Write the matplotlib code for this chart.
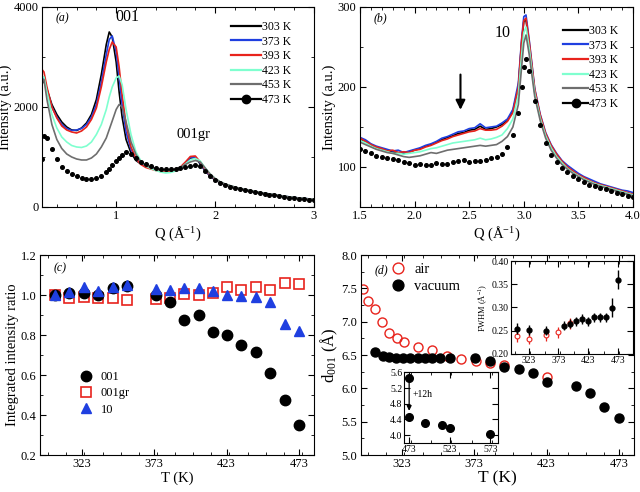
import numpy as np
import matplotlib
matplotlib.use('Agg')
import matplotlib.pyplot as plt
from matplotlib.lines import Line2D
from matplotlib.ticker import MultipleLocator, FormatStrFormatter

plt.rcParams['font.family'] = ['Liberation Serif', 'DejaVu Serif']
plt.rcParams['mathtext.fontset'] = 'stix'
plt.rcParams['font.size'] = 9

# ---------------- data ----------------
temps_label = ['303 K', '373 K', '393 K', '423 K', '453 K', '473 K']
curve_colors = ['black', '#1f3fe0', '#e8231c', '#7fffcf', '#6e6e6e', 'black']

# (a) low-Q scattering
q_a = [0.25, 0.27, 0.30, 0.35, 0.40, 0.45, 0.50, 0.55, 0.60, 0.65, 0.70, 0.75, 0.80, 0.85, 0.90,
       0.93, 0.96, 1.00, 1.03, 1.06, 1.10, 1.15, 1.20, 1.25, 1.30, 1.35, 1.40, 1.45, 1.50, 1.55,
       1.60, 1.65, 1.70, 1.75, 1.80, 1.85, 1.90, 1.95, 2.00, 2.05, 2.10, 2.15, 2.20, 2.25, 2.30,
       2.35, 2.40, 2.45, 2.50, 2.55, 2.60, 2.65, 2.70, 2.75, 2.80, 2.85, 2.90, 2.95, 3.00]
a_303 = [2450, 2550, 2350, 2050, 1850, 1700, 1600, 1540, 1530, 1580, 1680, 1850, 2150, 2650, 3250,
         3500, 3400, 2900, 2300, 1800, 1350,
         1080, 930, 860, 820, 790, 760, 740, 730, 730, 750, 790, 870, 980, 990, 860, 720, 620,
         540, 490, 450, 420, 390, 365, 340, 320, 300, 285, 270, 255, 240, 225, 210, 198, 185, 175, 165, 158, 150]
a_373 = [2550, 2600, 2350, 2000, 1800, 1650, 1570, 1530, 1540, 1570, 1650, 1800, 2050, 2500, 3050,
         3350, 3420, 3100, 2600, 2050, 1500,
         1150, 960, 870, 820, 790, 760, 740, 720, 720, 740, 790, 880, 990, 1000, 880, 730, 630,
         550, 495, 455, 425, 395, 370, 345, 325, 305, 290, 275, 260, 245, 230, 215, 202, 190, 180, 170, 162, 155]
a_393 = [2750, 2700, 2400, 2000, 1780, 1620, 1540, 1500, 1480, 1520, 1600, 1750, 1980, 2400, 2900,
         3150, 3300, 3200, 2800, 2250, 1650,
         1200, 970, 850, 790, 760, 730, 710, 700, 710, 740, 800, 900, 1010, 1020, 900, 750, 640,
         560, 500, 458, 425, 395, 370, 345, 325, 305, 290, 273, 258, 243, 228, 213, 200, 188, 178, 168, 160, 153]
a_423 = [2600, 2600, 2300, 1850, 1580, 1400, 1300, 1230, 1200, 1190, 1220, 1300, 1450, 1650, 1950,
         2200, 2400, 2580, 2620, 2450, 1950,
         1450, 1100, 920, 820, 770, 730, 700, 680, 690, 720, 780, 860, 940, 970, 920, 780, 660,
         570, 505, 460, 428, 398, 372, 348, 328, 308, 292, 276, 260, 245, 230, 215, 202, 190, 180, 170, 162, 155]
a_453 = [2500, 2550, 2150, 1650, 1350, 1170, 1060, 1000, 960, 940, 940, 980, 1060, 1200, 1380,
         1550, 1720, 1950, 2050, 2000, 1700,
         1300, 1050, 900, 830, 790, 760, 740, 730, 740, 760, 800, 850, 900, 930, 900, 780, 660,
         570, 505, 460, 428, 398, 372, 348, 328, 308, 292, 276, 260, 245, 230, 215, 202, 190, 180, 170, 162, 155]
a_473 = [950, 1420, 1380, 1150, 950, 800, 720, 660, 620, 580, 560, 560, 570, 620, 700,
         760, 830, 910, 980, 1040, 1090,
         1060, 980, 900, 850, 810, 780, 760, 750, 750, 760, 770, 790, 820, 840, 820, 720, 620,
         540, 485, 440, 408, 380, 355, 330, 310, 290, 275, 260, 245, 230, 215, 200, 188, 175, 165, 155, 147, 140]

# (b) high-Q scattering
q_b = [1.50, 1.55, 1.60, 1.65, 1.70, 1.75, 1.80, 1.85, 1.90, 1.95, 2.00, 2.05, 2.10, 2.15, 2.20,
       2.25, 2.30, 2.35, 2.40, 2.45, 2.50, 2.55, 2.60, 2.65, 2.70, 2.75, 2.80, 2.85, 2.90, 2.95,
       2.98, 3.00, 3.02, 3.05, 3.10, 3.15, 3.20, 3.25, 3.30, 3.35, 3.40, 3.45, 3.50, 3.55, 3.60,
       3.65, 3.70, 3.75, 3.80, 3.85, 3.90, 3.95, 4.00]
b_303 = [135, 132, 128, 124, 122, 121, 119, 118, 117, 119, 121, 123, 126, 128, 131, 134, 137, 139, 142, 143,
         146, 147, 151, 147, 148, 150, 153, 158, 170, 200, 255, 282, 284,
         252, 194, 163, 140, 125, 114, 105, 99, 94, 89, 85, 82, 79, 76, 74, 72, 70, 68, 66, 64]
b_373 = [137, 134, 129, 126, 124, 122, 120, 121, 118, 120, 122, 124, 127, 129, 132, 136, 138, 141, 144, 145,
         148, 149, 154, 149, 150, 151, 155, 160, 172, 205, 260, 288, 290,
         258, 198, 166, 143, 128, 117, 108, 102, 97, 92, 88, 85, 82, 79, 77, 75, 73, 71, 70, 68]
b_393 = [136, 132, 128, 125, 123, 120, 121, 118, 119, 118, 121, 122, 125, 127, 130, 133, 135, 138, 140, 142,
         144, 145, 148, 146, 146, 147, 151, 157, 168, 200, 258, 283, 286,
         256, 197, 165, 142, 127, 116, 107, 100, 95, 90, 87, 83, 80, 78, 76, 74, 72, 70, 68, 66]
b_423 = [133, 130, 126, 123, 121, 119, 117, 117, 116, 117, 118, 119, 121, 123, 124, 126, 128, 130, 131, 132,
         133, 134, 136, 134, 135, 137, 140, 148, 160, 190, 240, 268, 275,
         248, 192, 161, 139, 124, 113, 105, 98, 93, 89, 85, 82, 79, 77, 75, 73, 71, 69, 67, 65]
b_453 = [131, 128, 125, 122, 120, 118, 117, 115, 113, 112, 113, 114, 116, 118, 117, 119, 121, 122, 123, 124,
         125, 126, 127, 126, 127, 128, 132, 138, 150, 178, 225, 255, 265,
         240, 188, 158, 136, 121, 111, 103, 97, 92, 88, 84, 81, 78, 76, 74, 72, 70, 68, 66, 64]
b_473 = [123, 120, 117, 114, 113, 111, 110, 109, 106, 105, 103, 104, 102, 103, 105, 104, 104, 106, 107, 109,
         106, 107, 108, 109, 111, 113, 116, 125, 140, 168, 200, 225, 235,
         220, 182, 152, 130, 115, 106, 99, 94, 89, 85, 81, 78, 76, 74, 72, 70, 68, 66, 64, 62]

# (c) integrated intensity ratio
t_c = [304.6, 314.5, 324.6, 334.5, 344.4, 354, 374.2, 383.9, 393.7, 403.8, 413.7, 423.6,
       433.2, 443.4, 453.2, 463.1, 473]
r_001 = [1.0, 1.01, 1.008, 1.0, 1.035, 1.045, 1.0, 0.963, 0.875, 0.9, 0.815, 0.798,
         0.75, 0.713, 0.608, 0.475, 0.348]
r_001gr = [1.0, 0.985, 0.99, 0.985, 0.985, 0.975, 0.98, 0.985, 1.005, 1.0, 1.01, 1.04,
           1.025, 1.04, 1.025, 1.06, 1.055]
r_10 = [1.0, 1.015, 1.04, 1.02, 1.04, 1.05, 1.03, 1.025, 1.035, 1.035, 1.02, 1.0,
        0.995, 0.99, 0.965, 0.855, 0.82]

# (d) d-spacing
t_air = [296.6, 300, 304.6, 309.7, 314.5, 319.6, 324.6, 334.5, 344.3, 354, 364.3, 374, 383.8, 393.6, 423.5]
d_air = [7.49, 7.315, 7.185, 6.99, 6.835, 6.76, 6.69, 6.62, 6.57, 6.48, 6.44, 6.41, 6.385, 6.355, 6.165]
t_vac = [304.7, 310, 314.5, 319, 324, 329, 334, 339, 344, 349.5, 356.7, 373.5, 383.8, 393.6, 403.7,
         413.6, 423.5, 443.2, 453, 462.9, 472.8]
d_vac = [6.54, 6.49, 6.475, 6.46, 6.455, 6.455, 6.455, 6.455, 6.455, 6.455, 6.455, 6.455, 6.415, 6.325,
         6.285, 6.225, 6.1, 6.04, 5.925, 5.715, 5.55]

# FWHM inset
t_fw_vac = [303, 323, 353, 383, 393, 403, 413, 423, 433, 443, 453, 463, 473]
fw_vac = [0.254, 0.252, 0.25, 0.261, 0.265, 0.27, 0.275, 0.27, 0.279, 0.279, 0.279, 0.30, 0.36]
fw_vac_err = [0.012, 0.011, 0.01, 0.01, 0.01, 0.01, 0.01, 0.01, 0.01, 0.01, 0.01, 0.02, 0.02]
t_fw_air = [303, 323, 353, 373, 393]
fw_air = [0.238, 0.233, 0.241, 0.247, 0.266]
fw_air_err = [0.012, 0.012, 0.012, 0.012, 0.012]

# long-time inset
t_long = [473, 473, 493, 513, 523, 573]
d_long = [5.46, 4.47, 4.32, 4.255, 4.19, 4.02]


def style_axis(ax, size=9):
    ax.tick_params(which='both', direction='in', top=True, right=True, labelsize=size, pad=2.5)
    ax.tick_params(which='major', length=4)
    ax.tick_params(which='minor', length=2)


fig = plt.figure(figsize=(6.4, 4.92), dpi=100)

# ── (a) ──
axa = fig.add_axes([0.0656, 0.5793, 0.425, 0.4065])
a_series = [a_303, a_373, a_393, a_423, a_453]
for vals, col in zip(a_series, curve_colors[:5]):
    axa.plot(q_a, vals, color=col, lw=1.2)
axa.plot(q_a, a_473, 'o', color='black', ms=2.6, ls='none')
axa.set_xlim(0.25, 3)
axa.set_ylim(0, 4000)
axa.xaxis.set_major_locator(MultipleLocator(1))
axa.xaxis.set_minor_locator(MultipleLocator(0.2))
axa.yaxis.set_major_locator(MultipleLocator(2000))
axa.yaxis.set_minor_locator(MultipleLocator(1000))
axa.set_xlabel(r'Q (Å$^{\mathregular{-1}}$)', fontsize=10.5, labelpad=1)
axa.set_ylabel('Intensity (a.u.)', fontsize=10.5, labelpad=1)
style_axis(axa)
axa.text(0.05, 0.93, '(a)', transform=axa.transAxes, fontsize=8.5, style='italic')
axa.text(0.99, 3790, '001', fontsize=11.5, ha='left', va='center')
axa.text(1.78, 1450, '001gr', fontsize=10.5, ha='center', va='center')

handles = [Line2D([], [], color=c, lw=1.6) for c in curve_colors[:5]]
handles.append(Line2D([], [], color='black', lw=1.6, marker='o', ms=6))
axa.legend(handles, temps_label, loc='upper left', bbox_to_anchor=(0.695, 0.93), frameon=False,
           fontsize=8.5, handlelength=2.5, handletextpad=0.1, labelspacing=0.22, borderpad=0,
           borderaxespad=0)

# ── (b) ──
axb = fig.add_axes([0.5625, 0.5793, 0.4266, 0.4065])
b_series = [b_303, b_373, b_393, b_423, b_453]
for vals, col in zip(b_series, curve_colors[:5]):
    axb.plot(q_b, vals, color=col, lw=1.2)
axb.plot(q_b, b_473, 'o', color='black', ms=2.6, ls='none')
axb.set_xlim(1.5, 4.0)
axb.set_ylim(50, 300)
axb.xaxis.set_major_locator(MultipleLocator(0.5))
axb.xaxis.set_minor_locator(MultipleLocator(0.1))
axb.yaxis.set_major_locator(MultipleLocator(100))
axb.yaxis.set_minor_locator(MultipleLocator(50))
axb.xaxis.set_major_formatter(FormatStrFormatter('%.1f'))
axb.set_xlabel(r'Q (Å$^{\mathregular{-1}}$)', fontsize=10.5, labelpad=1)
axb.set_ylabel('Intensity (a.u.)', fontsize=10.5, labelpad=1)
style_axis(axb)
axb.text(0.05, 0.93, '(b)', transform=axb.transAxes, fontsize=8.5, style='italic')
axb.text(2.81, 268, '10', fontsize=11.5, ha='center', va='center')
axb.annotate('', xy=(2.42, 168), xytext=(2.42, 219),
             arrowprops=dict(arrowstyle='-|>', color='black', lw=1.5, mutation_scale=14))
axb.legend(handles, temps_label, loc='upper left', bbox_to_anchor=(0.745, 0.91), frameon=False,
           fontsize=8.5, handlelength=2.1, handletextpad=0.1, labelspacing=0.22, borderpad=0,
           borderaxespad=0)

# ── (c) ──
axc = fig.add_axes([0.0625, 0.0752, 0.428, 0.4065])
axc.plot(t_c, r_001, 'o', color='black', ms=7.5, label='001', zorder=3)
axc.plot(t_c, r_001gr, 's', mfc='none', mec='#e8231c', mew=1.2, ms=7, label='001gr', zorder=2)
axc.plot(t_c, r_10, '^', color='#1f3fe0', ms=7.5, label='10', zorder=4)
axc.set_xlim(294.3, 483.3)
axc.set_ylim(0.2, 1.2)
axc.set_xticks([323, 373, 423, 473])
axc.xaxis.set_minor_locator(MultipleLocator(12.5))
axc.yaxis.set_major_locator(MultipleLocator(0.2))
axc.yaxis.set_minor_locator(MultipleLocator(0.1))
axc.set_xlabel('T (K)', fontsize=10.5, labelpad=1)
axc.set_ylabel('Integrated intensity ratio', fontsize=10.5, labelpad=1)
style_axis(axc)
axc.text(0.05, 0.92, '(c)', transform=axc.transAxes, fontsize=8.5, style='italic')
axc.legend(loc='upper left', bbox_to_anchor=(0.14, 0.42), frameon=False, fontsize=9,
           handlelength=1.2, handletextpad=0.6, labelspacing=0.35, borderpad=0, borderaxespad=0)

# ── (d) ──
axd = fig.add_axes([0.564, 0.0752, 0.4266, 0.4065])
axd.plot(t_air, d_air, 'o', mfc='none', mec='#e8231c', mew=1.0, ms=6.5, label='air', zorder=2)
axd.plot(t_vac, d_vac, 'o', color='black', ms=6.5, label='vacuum', zorder=3)
axd.set_xlim(295, 483.3)
axd.set_ylim(5.0, 8.0)
axd.set_xticks([323, 373, 423, 473])
axd.xaxis.set_minor_locator(MultipleLocator(12.5))
axd.yaxis.set_major_locator(MultipleLocator(0.5))
axd.yaxis.set_minor_locator(MultipleLocator(0.25))
axd.yaxis.set_major_formatter(FormatStrFormatter('%.1f'))
axd.set_xlabel('T (K)', fontsize=12.5, labelpad=0)
axd.set_ylabel(r'd$_{\mathregular{001}}$ (Å)', fontsize=12, labelpad=1)
style_axis(axd)
axd.text(0.05, 0.91, '(d)', transform=axd.transAxes, fontsize=8.5, style='italic')
axd.legend(loc='upper left', bbox_to_anchor=(0.11, 0.96), frameon=False, fontsize=10.5,
           handlelength=1.0, handletextpad=0.6, labelspacing=0.25, borderpad=0, borderaxespad=0,
           markerscale=1.2)

# FWHM inset
axf = fig.add_axes([0.798, 0.2805, 0.1906, 0.189])
axf.errorbar(t_fw_air, fw_air, yerr=fw_air_err, fmt='o', mfc='white', mec='#e8231c',
             ecolor='#e8231c', ms=3.5, mew=0.8, elinewidth=0.9, capsize=0, zorder=2)
axf.errorbar(t_fw_vac, fw_vac, yerr=fw_vac_err, fmt='o', color='black', ms=3.5,
             elinewidth=1.0, capsize=0, zorder=3)
axf.set_xlim(293, 498)
axf.set_ylim(0.2, 0.4)
axf.set_xticks([323, 373, 423, 473])
axf.xaxis.set_minor_locator(MultipleLocator(25))
axf.yaxis.set_major_locator(MultipleLocator(0.05))
axf.yaxis.set_major_formatter(FormatStrFormatter('%.2f'))
axf.set_ylabel(r'FWHM (Å$^{\mathregular{-1}}$)', fontsize=6, labelpad=1)
style_axis(axf, size=7)
axf.tick_params(pad=1.5)

# long-time inset
axl = fig.add_axes([0.6317, 0.0996, 0.1469, 0.145])
axl.plot(t_long, d_long, 'o', color='black', ms=5.5)
axl.annotate('', xy=(t_long[1], d_long[1] + 0.08), xytext=(t_long[0], d_long[0] - 0.06),
             arrowprops=dict(arrowstyle='-|>', color='black', lw=0.9, mutation_scale=7))
axl.text(477, 4.98, '+12h', fontsize=7)
axl.set_xlim(467, 583)
axl.set_ylim(3.8, 5.62)
axl.set_xticks([473, 523, 573])
axl.xaxis.set_minor_locator(MultipleLocator(25))
axl.yaxis.set_major_locator(MultipleLocator(0.4))
axl.yaxis.set_major_formatter(FormatStrFormatter('%.1f'))
style_axis(axl, size=7)
axl.tick_params(pad=1.5)

fig.savefig('out.png', dpi=100, facecolor='white')
